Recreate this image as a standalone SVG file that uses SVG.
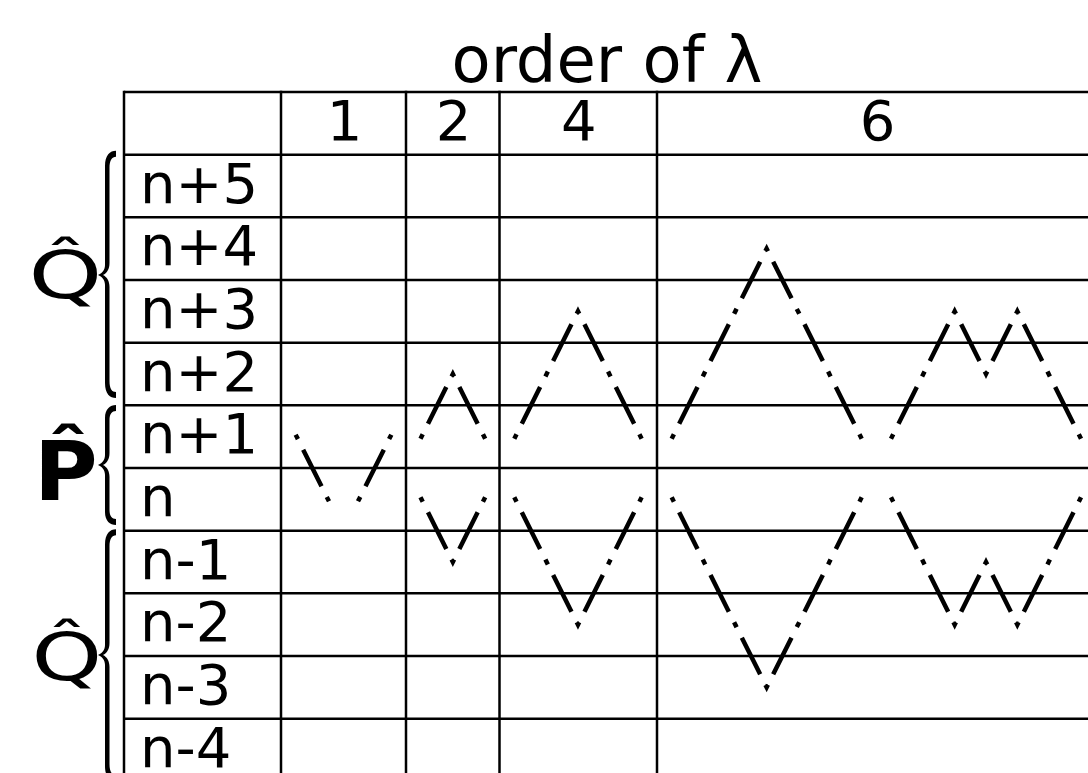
<svg xmlns="http://www.w3.org/2000/svg" width="1088" height="773" viewBox="0 0 1088 773">
<style>
.grid{stroke:#000;stroke-width:2.5;fill:none}
.lbl{font-family:"DejaVu Sans",sans-serif;font-size:56px;fill:#000}
.hdr{font-family:"DejaVu Sans",sans-serif;font-size:56px;fill:#000;text-anchor:middle}
.zz{stroke:#000;stroke-width:4.5;fill:none;stroke-linecap:square;stroke-linejoin:miter;stroke-dasharray:1 16.28 36.5 16.29;stroke-dashoffset:0.5}
.brace{fill:#000}
.sym{font-family:"DejaVu Sans",sans-serif;fill:#000}
</style>
<rect width="1088" height="773" fill="#fff"/>
<text x="451.5" y="81.7" font-family="DejaVu Sans, sans-serif" font-size="64" fill="#000">order of λ</text>
<g id="table">
<g class="grid">
<line x1="124" y1="92" x2="1100" y2="92"/>
<line x1="124" y1="154.67" x2="1100" y2="154.67"/>
<line x1="124" y1="217.33" x2="1100" y2="217.33"/>
<line x1="124" y1="280" x2="1100" y2="280"/>
<line x1="124" y1="342.67" x2="1100" y2="342.67"/>
<line x1="124" y1="405.33" x2="1100" y2="405.33"/>
<line x1="124" y1="468" x2="1100" y2="468"/>
<line x1="124" y1="530.67" x2="1100" y2="530.67"/>
<line x1="124" y1="593.33" x2="1100" y2="593.33"/>
<line x1="124" y1="656" x2="1100" y2="656"/>
<line x1="124" y1="718.67" x2="1100" y2="718.67"/>
<line x1="124" y1="90.75" x2="124" y2="780"/>
<line x1="281" y1="90.75" x2="281" y2="780"/>
<line x1="406" y1="90.75" x2="406" y2="780"/>
<line x1="499.5" y1="90.75" x2="499.5" y2="780"/>
<line x1="657" y1="90.75" x2="657" y2="780"/>
</g>
<g id="header">
<text class="hdr" x="344.5" y="140">1</text>
<text class="hdr" x="453.5" y="140">2</text>
<text class="hdr" x="578.7" y="140">4</text>
<text class="hdr" x="877.5" y="140">6</text>
</g>
<g id="rows">
<text class="lbl" x="140" y="202.7">n+5</text>
<text class="lbl" x="140" y="265.3">n+4</text>
<text class="lbl" x="140" y="328">n+3</text>
<text class="lbl" x="140" y="390.7">n+2</text>
<text class="lbl" x="140" y="453.3">n+1</text>
<text class="lbl" x="140" y="516">n</text>
<text class="lbl" x="140" y="578.7">n-1</text>
<text class="lbl" x="140" y="641.3">n-2</text>
<text class="lbl" x="140" y="704">n-3</text>
<text class="lbl" x="140" y="766.7">n-4</text>
</g>
</g>
<g id="brace-q-upper">
<path class="brace" d="M116,150.7 C110,150.7 105,155 105,166 L105,265 C105,270 102,273.5 98,275 C102,276.5 105,280 105,285 L105,383 C105,394 110,398 116,398 L116,392 C112,392 109.5,389 109.5,381 L109.5,287 C109.5,281 107,277 103,275 C107,273 109.5,269 109.5,263 L109.5,168 C109.5,160 112,156.7 116,156.7 Z"/>
<text class="sym" transform="translate(28.5,298) scale(1.42,1)" font-size="66">Q̂</text>
</g>
<g id="brace-p">
<path class="brace" d="M116,405 C110,405 105,409 105,418 L105,455 C105,460 102,463.5 98,465 C102,466.5 105,470 105,475 L105,512 C105,521 110,525 116,525 L116,519 C112,519 109.5,516 109.5,510 L109.5,477 C109.5,471 107,467 103,465 C107,463 109.5,459 109.5,453 L109.5,420 C109.5,414 112,411 116,411 Z"/>
<text class="sym" transform="translate(34,500) scale(1.06,1)" font-size="82" font-weight="bold">P̂</text>
</g>
<g id="brace-q-lower">
<path class="brace" d="M116,529.3 C110,529.3 105,533.6 105,544.6 L105,645 C105,650 102,653.5 98,655 C102,656.5 105,660 105,665 L105,766 C105,777 110,781 116,781 L116,775 C112,775 109.5,772 109.5,764 L109.5,667 C109.5,661 107,657 103,655 C107,653 109.5,649 109.5,643 L109.5,546.6 C109.5,538.6 112,535.3 116,535.3 Z"/>
<text class="sym" transform="translate(31.5,680) scale(1.36,1)" font-size="66">Q̂</text>
</g>
<g id="connectors">
<polyline class="zz" points="296.67,436.67 328,499.33"/>
<polyline class="zz" points="359,499.33 390.33,436.67"/>
<polyline class="zz" points="421.5,436.67 452.83,374 484.17,436.67"/>
<polyline class="zz" points="421.5,499.33 452.83,562 484.17,499.33"/>
<polyline class="zz" points="515.3,436.67 577.97,311.33 640.63,436.67"/>
<polyline class="zz" points="515.3,499.33 577.97,624.67 640.63,499.33"/>
<polyline class="zz" points="672.67,436.67 766.67,248.67 860.67,436.67"/>
<polyline class="zz" points="892,436.67 954.67,311.33 986,374 1017.33,311.33 1080,436.67"/>
<polyline class="zz" points="672.67,499.33 766.67,687.33 860.67,499.33"/>
<polyline class="zz" points="892,499.33 954.67,624.67 986,562 1017.33,624.67 1080,499.33"/>
</g>
</svg>
